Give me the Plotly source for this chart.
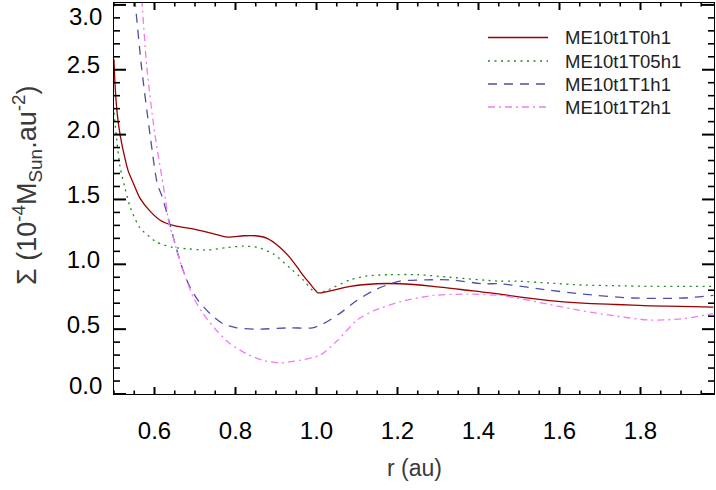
import plotly.graph_objects as go

# ---------------- data ----------------
series_names = ["ME10t1T0h1", "ME10t1T05h1", "ME10t1T1h1", "ME10t1T2h1"]

r_T0 = [0.500, 0.5025, 0.508, 0.515, 0.5225, 0.535, 0.547, 0.564, 0.589, 0.614, 0.646,
        0.70, 0.74, 0.78, 0.82, 0.85, 0.878, 0.91, 0.935, 0.952, 0.968, 0.984, 1.004,
        1.026, 1.083, 1.149, 1.206, 1.288, 1.372, 1.453, 1.495, 1.576, 1.658, 1.74,
        1.823, 1.90, 1.98]
s_T0 = [2.58, 2.39, 2.16, 2.00, 1.88, 1.72, 1.63, 1.51, 1.41, 1.34, 1.30,
        1.27, 1.24, 1.21, 1.22, 1.22, 1.20, 1.13, 1.05, 0.98, 0.91, 0.85, 0.78,
        0.79, 0.83, 0.85, 0.85, 0.83, 0.80, 0.77, 0.75, 0.72, 0.70, 0.69,
        0.68, 0.675, 0.67]

r_T05 = [0.500, 0.507, 0.515, 0.527, 0.540, 0.564, 0.589, 0.605, 0.646, 0.68, 0.73,
         0.78, 0.82, 0.855, 0.893, 0.935, 0.967, 0.99, 1.004, 1.026, 1.083, 1.125,
         1.18, 1.25, 1.33, 1.45, 1.495, 1.576, 1.658, 1.74, 1.823, 1.90, 1.98]
s_T05 = [2.17, 1.95, 1.75, 1.59, 1.44, 1.28, 1.21, 1.17, 1.13, 1.12, 1.11,
         1.13, 1.14, 1.13, 1.08, 0.97, 0.88, 0.80, 0.78, 0.80, 0.88, 0.91,
         0.92, 0.92, 0.90, 0.87, 0.87, 0.855, 0.84, 0.835, 0.83, 0.83, 0.83]

r_T1 = [0.544, 0.552, 0.568, 0.589, 0.607, 0.618, 0.638, 0.655, 0.671, 0.688, 0.708,
        0.737, 0.770, 0.803, 0.852, 0.935, 0.99, 1.016, 1.057, 1.099, 1.149, 1.206,
        1.272, 1.33, 1.411, 1.453, 1.576, 1.658, 1.781, 1.905, 1.98]
s_T1 = [3.30, 3.03, 2.52, 2.00, 1.62, 1.53, 1.31, 1.11, 0.95, 0.82, 0.72,
        0.62, 0.54, 0.51, 0.50, 0.51, 0.51, 0.54, 0.62, 0.72, 0.81, 0.87,
        0.88, 0.88, 0.85, 0.85, 0.80, 0.77, 0.74, 0.74, 0.76]

r_T2 = [0.563, 0.569, 0.581, 0.601, 0.621, 0.627, 0.636, 0.646, 0.662, 0.679, 0.695,
        0.720, 0.753, 0.786, 0.827, 0.868, 0.909, 0.959, 1.009, 1.051, 1.100, 1.140,
        1.206, 1.288, 1.372, 1.453, 1.495, 1.576, 1.658, 1.742, 1.823, 1.905, 1.98]
s_T2 = [3.30, 3.03, 2.52, 2.00, 1.62, 1.50, 1.31, 1.21, 1.03, 0.88, 0.75,
        0.62, 0.49, 0.39, 0.31, 0.26, 0.24, 0.26, 0.30, 0.41, 0.57, 0.64,
        0.71, 0.76, 0.77, 0.76, 0.74, 0.69, 0.64, 0.60, 0.57, 0.58, 0.62]

x_tick0, x_dtick, x_minor = 0.6, 0.2, 0.05
y_tick0, y_dtick, y_minor = 0.0, 0.5, 0.1

# ---------------- styling ----------------
colors = ["#990000", "#228B22", "#4F4FA8", "#F07CF0"]
dashes = ["solid", "2px,4.5px", "9px,7px", "7px,4px,2px,4px"]
xs = [r_T0, r_T05, r_T1, r_T2]
ys = [s_T0, s_T05, s_T1, s_T2]

W, H = 716, 490
L, R, T, B = 114, 2, 3, 96
pw, ph = W - L - R, H - T - B
x_range = [0.5, 0.5 + pw / 405.0]
y_range = [0.0, ph / 129.7]

def px_x(px):
    return (px - L) / pw

def px_y(py):
    return (H - B - py) / ph

fig = go.Figure()
for x, y, c, d, n in zip(xs, ys, colors, dashes, series_names):
    fig.add_trace(go.Scatter(x=x, y=y, mode="lines", name=n,
                             line=dict(color=c, width=1.3, dash=d, shape="spline", smoothing=0.7),
                             showlegend=False))

font_family = "Liberation Sans, Arial, sans-serif"
tick_font = dict(family=font_family, size=24, color="black")

fig.update_xaxes(range=x_range, tickmode="linear", tick0=x_tick0, dtick=x_dtick,
                 tickformat=".1f", ticks="",
                 showline=True, linecolor="black", linewidth=1.2, mirror=True,
                 showgrid=False, zeroline=False, tickfont=tick_font, ticklabelstandoff=15)
fig.update_yaxes(range=y_range, tickmode="linear", tick0=y_tick0, dtick=y_dtick,
                 tickformat=".1f", labelalias={"3.0": "", "0.0": ""}, ticks="",
                 showline=True, linecolor="black", linewidth=1.2, mirror=True,
                 showgrid=False, zeroline=False, tickfont=tick_font,
                 ticklabelstandoff=8, ticklabelshift=-5)

# ---------------- inward tick marks on all four sides ----------------
shapes = []

def ticks_between(start, step, lo, hi):
    vals, k = [], 0
    while True:
        v = round(start + k * step, 6)
        if v > hi + 1e-9:
            break
        if v >= lo - 1e-9:
            vals.append(v)
        k += 1
    return vals

x_major = ticks_between(x_tick0 - 5 * x_dtick, x_dtick, x_range[0], x_range[1])
x_all = ticks_between(x_range[0], x_minor, x_range[0], x_range[1])
y_major = ticks_between(y_tick0, y_dtick, y_range[0], y_range[1])
y_all = ticks_between(y_tick0, y_minor, y_range[0], y_range[1])

def xfrac(v):
    return (v - x_range[0]) / (x_range[1] - x_range[0])

def yfrac(v):
    return (v - y_range[0]) / (y_range[1] - y_range[0])

for v in x_all:
    is_major = any(abs(v - m) < 1e-6 for m in x_major)
    ln = (7 if is_major else 3.5) / ph
    style = dict(color="black", width=2 if is_major else 1.6)
    f = xfrac(v)
    for base, sgn in ((0.0, 1), (1.0, -1)):
        shapes.append(dict(type="line", xref="paper", yref="paper", x0=f, x1=f,
                           y0=base, y1=base + sgn * ln, line=style))
for v in y_all:
    is_major = any(abs(v - m) < 1e-6 for m in y_major)
    ln = (12 if is_major else 6) / pw
    style = dict(color="black", width=2 if is_major else 1.6)
    f = yfrac(v)
    for base, sgn in ((0.0, 1), (1.0, -1)):
        shapes.append(dict(type="line", xref="paper", yref="paper", x0=base, x1=base + sgn * ln,
                           y0=f, y1=f, line=style))

annotations = []
annotations.append(dict(text="3.0", xref="paper", yref="paper", x=px_x(104), y=px_y(17),
                        xanchor="right", yanchor="middle", showarrow=False, font=tick_font))
annotations.append(dict(text="0.0", xref="paper", yref="paper", x=px_x(104), y=px_y(385),
                        xanchor="right", yanchor="middle", showarrow=False, font=tick_font))
annotations.append(dict(text="r (au)", xref="paper", yref="paper", x=0.5, y=px_y(468),
                        xanchor="center", yanchor="middle", showarrow=False,
                        font=dict(family=font_family, size=23, color="#3a3a3a")))
annotations.append(dict(text="Σ (10<sup>-4</sup>M<sub>Sun</sub>.au<sup>-2</sup>)",
                        xref="paper", yref="paper", x=px_x(27), y=px_y(186), textangle=-90,
                        xanchor="center", yanchor="middle", showarrow=False,
                        font=dict(family=font_family, size=27, color="#3a3a3a")))

# legend drawn manually (long line samples as in the reference)
leg_rows = [37.5, 61, 84, 107]
for n, c, d, yy in zip(series_names, colors, dashes, leg_rows):
    shapes.append(dict(type="line", xref="paper", yref="paper",
                       x0=px_x(488), x1=px_x(548), y0=px_y(yy), y1=px_y(yy),
                       line=dict(color=c, width=1.3, dash=d)))
    annotations.append(dict(text=n, xref="paper", yref="paper", x=px_x(563), y=px_y(yy),
                            xanchor="left", yanchor="middle", showarrow=False,
                            font=dict(family=font_family, size=18.5, color="#222222")))

fig.update_layout(width=W, height=H, margin=dict(l=L, r=R, t=T, b=B, autoexpand=False),
                  paper_bgcolor="white", plot_bgcolor="white",
                  annotations=annotations, shapes=shapes, showlegend=False)

fig.write_html("out.html", config={"displayModeBar": False},
               post_script="document.body.style.margin='0px';")
